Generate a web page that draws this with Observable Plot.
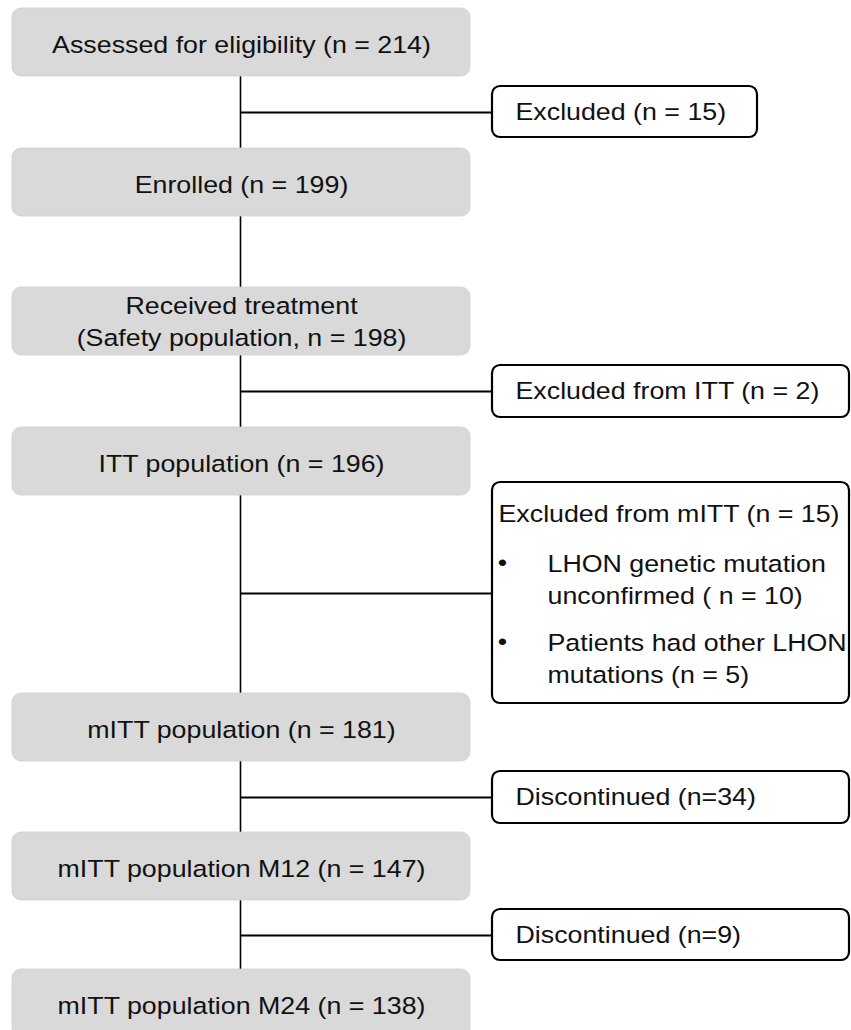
<!DOCTYPE html>
<html>
<head>
<meta charset="utf-8">
<script src="https://cdn.jsdelivr.net/npm/d3@7"></script>
<script src="https://cdn.jsdelivr.net/npm/@observablehq/plot@0.6"></script>
<style>
  html, body { margin: 0; padding: 0; background: #fff; }
  #chart svg { display: block; }
</style>
</head>
<body>
<div id="chart"></div>
<script>
// ---- data (flow stages and counts) ----
const mainStages = [
  "Assessed for eligibility",
  "Enrolled",
  "Received treatment\n(Safety population,",
  "ITT population",
  "mITT population",
  "mITT population M12",
  "mITT population M24"
];
const mainCounts = [214, 199, 198, 196, 181, 147, 138];

const sideStages = [
  "Excluded (n = 15)",
  "Excluded from ITT (n = 2)",
  "Excluded from mITT (n = 15)",
  "Discontinued (n=34)",
  "Discontinued (n=9)"
];
const bulletItems = [
  "LHON genetic mutation\nunconfirmed ( n = 10)",
  "Patients had other LHON\nmutations (n = 5)"
];

// ---- layout (pixel positions in the 851 x 1030 frame) ----
const W = 851, H = 1030;
const mainLeft = 12, mainRight = 470, mainH = 68, trunkX = 240;
const mainTop = [8, 148, 287, 427, 693, 832, 969];
const sideLeft = 492;
const sideTop = [86, 365, 482, 771, 909];
const sideBottom = [137, 417, 703, 823, 960];
const sideRight = [757, 849, 849, 849, 849];
const connectorY = [112, 391, 593, 797, 935];
const sideTextY = [112, 391, 514, 797, 935];
const bulletY = [577, 656];
const fontSize = 23.5;
const stretchX = 1.14;

const mainLabel = (s, i) => s.includes("\n") ? `${s} n = ${mainCounts[i]})` : `${s} (n = ${mainCounts[i]})`;

const mainBoxes = mainStages.map((s, i) => {
  const label = mainLabel(s, i);
  return {
    label,
    x1: mainLeft, x2: mainRight, y1: mainTop[i], y2: mainTop[i] + mainH,
    cy: mainTop[i] + mainH / 2 - (label.includes("\n") ? 2 : 0)
  };
});
const sideBoxes = sideStages.map((s, i) => ({
  label: s, x1: sideLeft, x2: sideRight[i], y1: sideTop[i], y2: sideBottom[i],
  cy: connectorY[i], ty: sideTextY[i], tx: i === 2 ? 498 : 515
}));
const bullets = bulletItems.map((s, i) => ({label: s, y: bulletY[i]}));

const plot = Plot.plot({
  width: W, height: H,
  margin: 0,
  x: {domain: [0, W], range: [0, W], axis: null},
  y: {domain: [0, H], range: [0, H], axis: null},
  style: {fontFamily: "'Liberation Sans', Arial, sans-serif", background: "#fff"},
  marks: [
    // trunk line
    Plot.ruleX([trunkX], {y1: mainTop[0] + mainH, y2: mainTop[mainTop.length - 1], stroke: "#000", strokeWidth: 1.6}),
    // connectors to side boxes
    Plot.ruleY(sideBoxes, {y: "cy", x1: trunkX, x2: sideLeft, stroke: "#000", strokeWidth: 2.2}),
    // main grey boxes
    Plot.rect(mainBoxes, {x1: "x1", x2: "x2", y1: "y1", y2: "y2", fill: "#d9d9d9", stroke: "#cfcfcf", strokeWidth: 0.8, rx: 9}),
    Plot.text(mainBoxes, {x: trunkX + 1, y: "cy", text: "label", fontSize, fill: "#111", lineHeight: 1.36}),
    // side white boxes
    Plot.rect(sideBoxes, {x1: "x1", x2: "x2", y1: "y1", y2: "y2", fill: "#fff", stroke: "#000", strokeWidth: 2.2, rx: 8}),
    Plot.text(sideBoxes, {x: "tx", y: "ty", text: "label", fontSize, fill: "#111", textAnchor: "start"}),
    // bullets
    Plot.text(bullets, {x: 502, y: d => d.y - 14, text: () => "•", fontSize, fill: "#111", textAnchor: "middle"}),
    Plot.text(bullets, {x: 547, y: "y", text: "label", fontSize, fill: "#111", textAnchor: "start", lineHeight: 1.36})
  ]
});
// widen the glyphs horizontally around each text's anchor point
d3.select(plot).selectAll("text").each(function() {
  const t = this.getAttribute("transform");
  if (t && t.includes("translate")) this.setAttribute("transform", `${t} scale(${stretchX},1)`);
});
document.getElementById("chart").appendChild(plot);
</script>
</body>
</html>
